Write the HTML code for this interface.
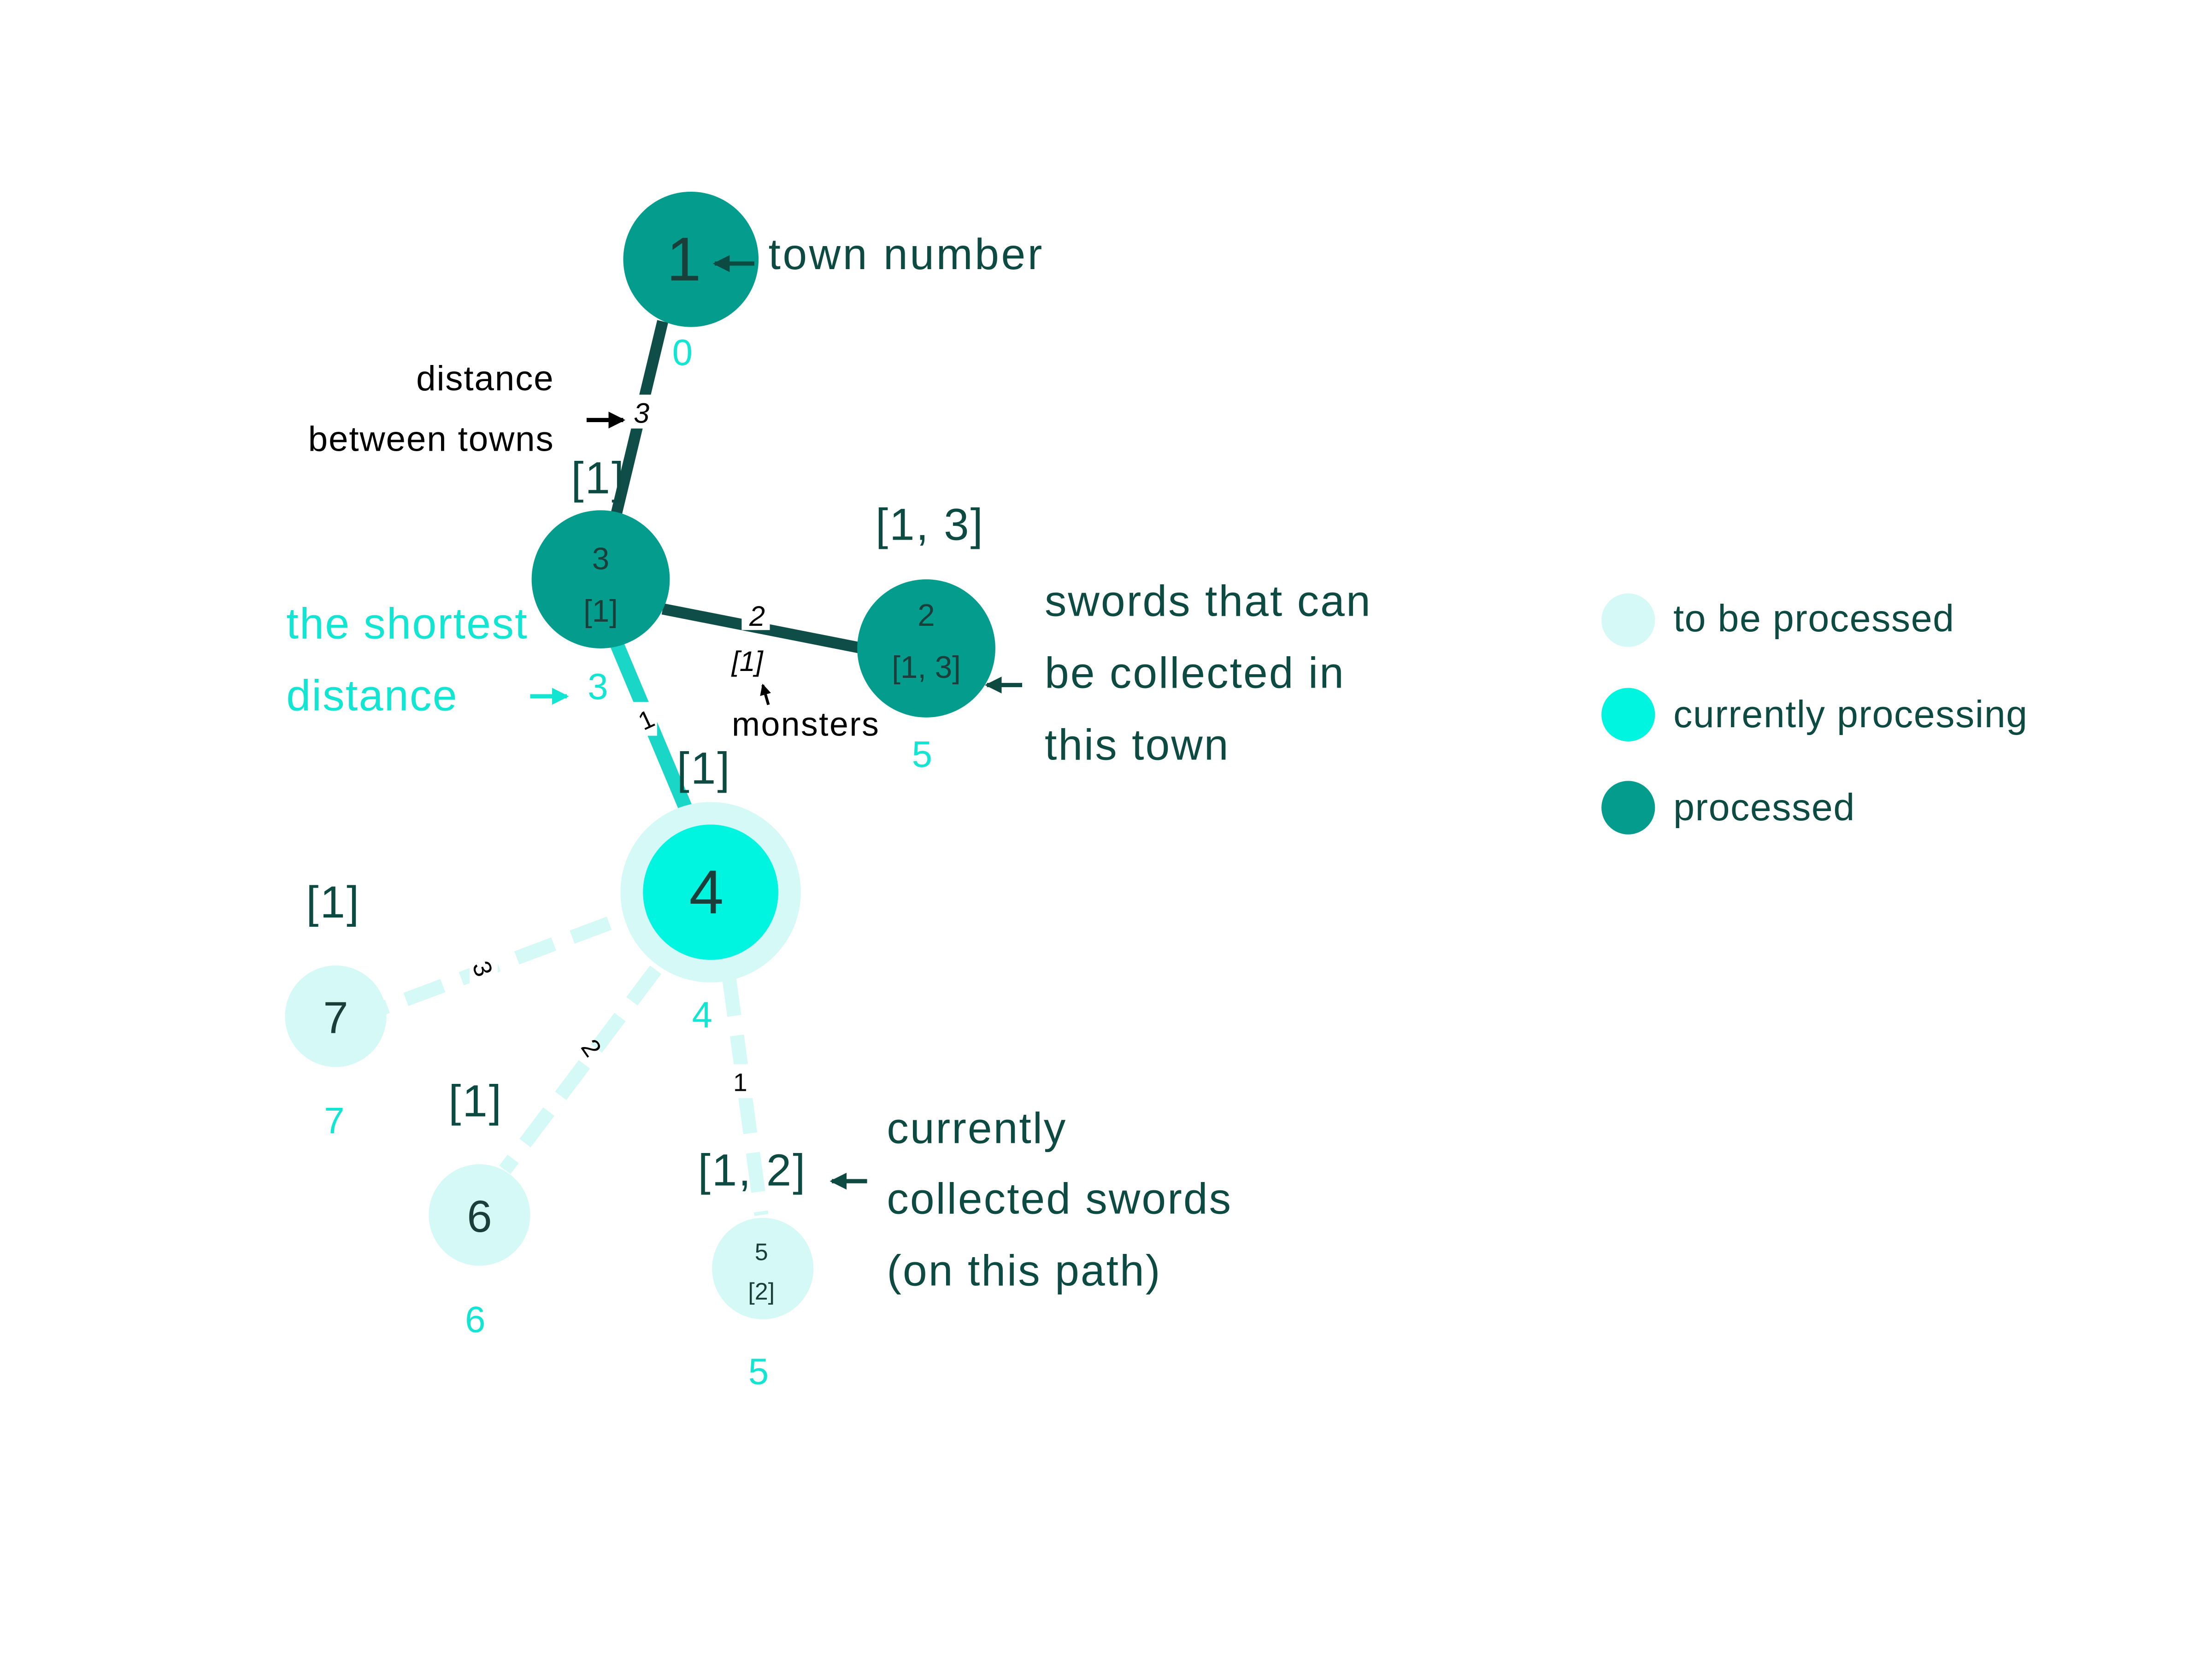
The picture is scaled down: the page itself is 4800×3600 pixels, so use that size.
<!DOCTYPE html>
<html><head><meta charset="utf-8"><style>
html,body{margin:0;padding:0;background:#fff;}
svg{display:block;}
text{font-family:"Liberation Sans","DejaVu Sans",sans-serif;}
</style></head><body>
<svg width="4800" height="3600" viewBox="0 0 1569 1177" xmlns="http://www.w3.org/2000/svg">
<defs>
<marker id="ad" markerWidth="4" markerHeight="4" refX="3.5" refY="2" orient="auto" markerUnits="strokeWidth"><path d="M0,0 L4,2 L0,4 z" fill="#0d4a42"/></marker>
<marker id="ab" markerWidth="4" markerHeight="4" refX="3.5" refY="2" orient="auto" markerUnits="strokeWidth"><path d="M0,0 L4,2 L0,4 z" fill="#000"/></marker>
<marker id="ac" markerWidth="4" markerHeight="4" refX="3.5" refY="2" orient="auto" markerUnits="strokeWidth"><path d="M0,0 L4,2 L0,4 z" fill="#12e5d2"/></marker>
</defs>
<line x1="470" y1="228" x2="437" y2="365" stroke="#0f4e48" stroke-width="8"/>
<line x1="470" y1="432" x2="612" y2="460" stroke="#0f4e48" stroke-width="8"/>
<line x1="437" y1="456" x2="487" y2="575" stroke="#1ad6c6" stroke-width="10"/>
<line x1="432" y1="655" x2="272" y2="715" stroke="#d5f9f6" stroke-width="10" stroke-dasharray="28,14"/>
<line x1="465" y1="688" x2="358" y2="830" stroke="#d5f9f6" stroke-width="10" stroke-dasharray="28,14"/>
<line x1="517" y1="693" x2="540" y2="862" stroke="#d5f9f6" stroke-width="10" stroke-dasharray="28,14"/>
<rect x="446" y="280" width="18" height="24" fill="#fff"/>
<text x="455" y="300" font-size="20" font-style="italic" text-anchor="middle">3</text>
<rect x="526" y="425" width="20" height="22" fill="#fff"/>
<text x="537" y="444" font-size="20" font-style="italic" text-anchor="middle">2</text>
<text x="530" y="476" font-size="20" font-style="italic" text-anchor="middle">[1]</text>
<rect x="448" y="498" width="18" height="24" fill="#fff"/>
<text x="458" y="517" font-size="18" text-anchor="middle" transform="rotate(-25 458 510)">1</text>
<rect x="333" y="676" width="20" height="22" fill="#fff"/>
<text x="343" y="694" font-size="18" text-anchor="middle" transform="rotate(70 343 687)">3</text>
<text x="420" y="750" font-size="18" text-anchor="middle" transform="rotate(55 420 743)">2</text>
<rect x="516" y="755" width="18" height="24" fill="#fff"/>
<text x="525" y="774" font-size="18" text-anchor="middle">1</text>
<circle cx="490" cy="184" r="48" fill="#039c8d"/>
<text x="485" y="199" font-size="44" fill="#1a3f3a" text-anchor="middle">1</text>
<circle cx="426" cy="411" r="49" fill="#039c8d"/>
<text x="426" y="404" font-size="22" fill="#1a3f3a" text-anchor="middle">3</text>
<text x="426" y="441" font-size="22" fill="#1a3f3a" text-anchor="middle">[1]</text>
<circle cx="657" cy="460" r="49" fill="#039c8d"/>
<text x="657" y="444" font-size="22" fill="#1a3f3a" text-anchor="middle">2</text>
<text x="657" y="481" font-size="22" fill="#1a3f3a" text-anchor="middle">[1, 3]</text>
<circle cx="504" cy="633" r="64" fill="#d5f9f6"/>
<circle cx="504" cy="633" r="48" fill="#00f5e0"/>
<text x="501" y="648" font-size="44" fill="#1a3f3a" text-anchor="middle">4</text>
<circle cx="238" cy="721" r="36" fill="#d5f9f6"/>
<text x="238" y="733" font-size="32" fill="#1a3f3a" text-anchor="middle">7</text>
<circle cx="340" cy="862" r="36" fill="#d5f9f6"/>
<text x="340" y="874" font-size="32" fill="#1a3f3a" text-anchor="middle">6</text>
<circle cx="541" cy="900" r="36" fill="#d5f9f6"/>
<text x="540" y="894" font-size="17" fill="#1a3f3a" text-anchor="middle">5</text>
<text x="540" y="922" font-size="17" fill="#1a3f3a" text-anchor="middle">[2]</text>
<g fill="#12e5d2" font-size="26" text-anchor="middle">
<text x="484" y="259">0</text>
<text x="424" y="496">3</text>
<text x="654" y="544">5</text>
<text x="498" y="729">4</text>
<text x="237" y="804">7</text>
<text x="337" y="945">6</text>
<text x="538" y="982">5</text>
</g>
<g fill="#0d4a42" font-size="32" letter-spacing="1">
<text x="405" y="350">[1]</text>
<text x="621" y="383">[1, 3]</text>
<text x="480" y="556">[1]</text>
<text x="217" y="651">[1]</text>
<text x="318" y="792">[1]</text>
<text x="495" y="841">[1, 2]</text>
</g>
<line x1="535" y1="187" x2="507" y2="187" stroke="#0d4a42" stroke-width="3" marker-end="url(#ad)"/>
<text x="545" y="191" font-size="31" fill="#0d4a42" letter-spacing="1.5">town number</text>
<g font-size="25" fill="#000" text-anchor="end" letter-spacing="0.6">
<text x="393" y="277">distance</text>
<text x="393" y="320">between towns</text>
</g>
<line x1="416" y1="298" x2="442" y2="298" stroke="#000" stroke-width="3" marker-end="url(#ab)"/>
<text x="519" y="522" font-size="24" fill="#000" letter-spacing="0.8">monsters</text>
<line x1="545" y1="500" x2="541" y2="486" stroke="#000" stroke-width="2" marker-end="url(#ab)"/>
<g font-size="31" fill="#12e5d2" letter-spacing="0.8">
<text x="203" y="453">the shortest</text>
<text x="203" y="504">distance</text>
</g>
<line x1="376" y1="494" x2="402" y2="494" stroke="#12e5d2" stroke-width="3" marker-end="url(#ac)"/>
<line x1="725" y1="486" x2="700" y2="486" stroke="#0d4a42" stroke-width="3" marker-end="url(#ad)"/>
<g font-size="31" fill="#0d4a42" letter-spacing="1">
<text x="741" y="437">swords that can</text>
<text x="741" y="488">be collected in</text>
<text x="741" y="539">this town</text>
<text x="629" y="811">currently</text>
<text x="629" y="861">collected swords</text>
<text x="629" y="912">(on this path)</text>
</g>
<line x1="615" y1="838" x2="590" y2="838" stroke="#0d4a42" stroke-width="3" marker-end="url(#ad)"/>
<circle cx="1155" cy="440" r="19" fill="#d5f9f6"/>
<circle cx="1155" cy="507" r="19" fill="#00f5e0"/>
<circle cx="1155" cy="573" r="19" fill="#039c8d"/>
<g font-size="27" fill="#0d4a42" letter-spacing="0.5">
<text x="1187" y="448">to be processed</text>
<text x="1187" y="516">currently processing</text>
<text x="1187" y="582">processed</text>
</g>
</svg>
</body></html>
